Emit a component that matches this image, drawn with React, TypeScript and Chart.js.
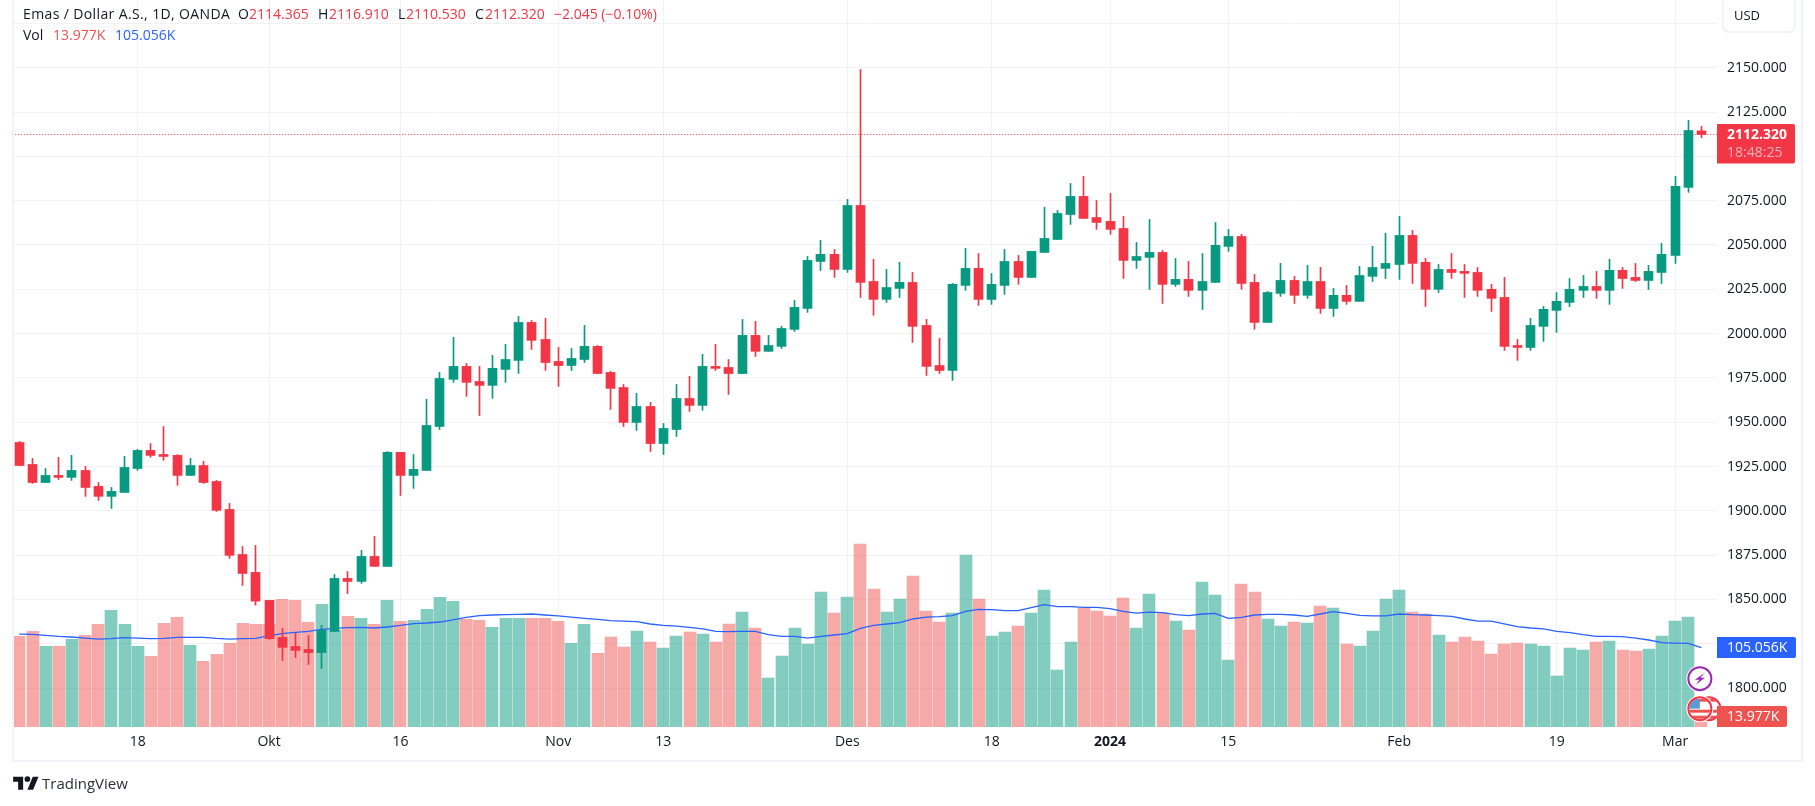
import { useEffect, useRef } from 'react';
import { Chart, registerables } from 'chart.js';

Chart.register(...registerables);

const FONT = '"Open Sans", sans-serif';
const TEXT = '#131722';
const UP = '#089981';
const DOWN = '#F23645';
const VOL_RED = '#EF5350';
const BLUE = '#2962FF';
const BORDER = '#F0F3FA';
const GRID = '#F2F2F4';

// daily candles, index 0 is 5 Sep 2023
const opens = [
  1938.6, 1926.2, 1916.0, 1920.0, 1918.9, 1922.8, 1913.8, 1908.2, 1910.4, 1923.9,
  1934.1, 1931.8, 1931.3, 1920.0, 1925.6, 1916.6, 1900.8, 1875.4, 1865.3, 1849.5,
  1828.6, 1823.5, 1821.8, 1820.1, 1832.0, 1861.9, 1860.2, 1874.3, 1868.7, 1933.0,
  1920.0, 1922.8, 1947.6, 1974.2, 1981.5, 1973.0, 1970.8, 1979.8, 1984.9, 2006.3,
  1996.7, 1984.3, 1982.0, 1985.4, 1992.8, 1978.1, 1969.6, 1949.9, 1958.9, 1938.0,
  1945.9, 1963.4, 1959.5, 1981.5, 1980.9, 1977.5, 1999.0, 1990.0, 1992.8, 2002.4,
  2014.2, 2040.7, 2044.7, 2036.2, 2072.3, 2029.4, 2019.3, 2025.5, 2028.9, 2004.6,
  1982.0, 1979.2, 2027.2, 2036.8, 2019.3, 2027.2, 2040.7, 2031.7, 2045.8, 2053.1,
  2067.2, 2077.4, 2065.5, 2063.3, 2059.3, 2041.3, 2043.0, 2045.8, 2027.8, 2030.6,
  2024.4, 2028.9, 2049.2, 2054.8, 2028.9, 2006.3, 2022.7, 2030.0, 2021.6, 2029.4,
  2014.2, 2021.6, 2018.2, 2032.3, 2036.8, 2039.0, 2055.4, 2040.2, 2025.0, 2036.2,
  2035.1, 2034.5, 2025.0, 2020.4, 1993.3, 1992.2, 2004.1, 2013.1, 2017.6, 2024.4,
  2026.6, 2024.4, 2035.7, 2031.7, 2030.0, 2034.5, 2044.1, 2082.5, 2114.365,
];
const highs = [
  1939.2, 1929.6, 1923.9, 1930.2, 1931.3, 1925.1, 1916.0, 1913.2, 1930.7, 1934.7,
  1938.0, 1947.6, 1931.8, 1929.6, 1927.9, 1917.2, 1904.2, 1879.9, 1880.5, 1849.5,
  1833.7, 1830.9, 1829.7, 1835.4, 1864.1, 1865.8, 1877.7, 1885.6, 1933.5, 1933.0,
  1931.8, 1962.9, 1978.1, 1997.9, 1983.2, 1981.5, 1987.7, 1993.9, 2009.7, 2007.4,
  2008.6, 1992.2, 1991.6, 2004.6, 1993.3, 1978.7, 1971.3, 1966.3, 1961.2, 1949.3,
  1971.3, 1975.9, 1988.3, 1993.9, 1985.4, 2008.0, 2006.9, 1999.0, 2004.1, 2018.7,
  2043.5, 2052.6, 2047.5, 2075.7, 2149.0, 2041.9, 2036.2, 2040.2, 2034.5, 2008.0,
  1997.3, 2028.3, 2048.1, 2045.2, 2033.9, 2047.5, 2044.1, 2046.4, 2071.2, 2069.5,
  2084.7, 2088.7, 2075.1, 2079.1, 2066.1, 2051.4, 2064.4, 2046.9, 2042.4, 2040.7,
  2045.2, 2062.7, 2058.8, 2056.0, 2033.4, 2023.8, 2039.6, 2032.3, 2038.5, 2037.4,
  2025.5, 2027.2, 2037.9, 2049.2, 2056.6, 2066.1, 2058.2, 2042.4, 2039.0, 2045.2,
  2039.0, 2037.3, 2027.8, 2031.7, 1996.7, 2008.6, 2015.3, 2023.2, 2031.1, 2032.8,
  2035.1, 2041.9, 2037.3, 2039.6, 2038.5, 2050.9, 2088.7, 2120.3, 2116.91,
];
const lows = [
  1925.6, 1915.5, 1916.0, 1917.7, 1917.2, 1908.2, 1905.9, 1901.4, 1910.4, 1922.8,
  1930.2, 1928.5, 1914.4, 1920.0, 1915.5, 1899.7, 1873.2, 1857.9, 1846.8, 1827.5,
  1815.6, 1817.3, 1813.4, 1811.1, 1832.0, 1853.4, 1859.1, 1868.7, 1868.7, 1908.7,
  1912.7, 1922.8, 1945.9, 1972.5, 1964.6, 1953.8, 1963.5, 1972.5, 1977.5, 1991.1,
  1979.2, 1970.2, 1979.2, 1983.7, 1977.5, 1957.2, 1947.6, 1945.4, 1933.5, 1931.8,
  1942.0, 1956.1, 1956.7, 1979.2, 1965.7, 1977.5, 1987.1, 1990.0, 1991.6, 2001.2,
  2012.0, 2035.6, 2031.7, 2034.5, 2020.4, 2010.3, 2017.6, 2020.4, 1995.0, 1976.4,
  1977.5, 1973.6, 2024.4, 2015.9, 2016.5, 2022.1, 2027.8, 2031.7, 2045.8, 2053.1,
  2061.6, 2065.0, 2058.8, 2056.0, 2031.1, 2036.8, 2024.9, 2017.0, 2026.6, 2021.0,
  2013.6, 2028.9, 2046.4, 2025.0, 2002.4, 2006.3, 2021.0, 2017.0, 2019.9, 2011.4,
  2009.7, 2016.5, 2018.2, 2029.4, 2031.1, 2030.6, 2028.3, 2015.3, 2023.2, 2031.1,
  2020.4, 2021.0, 2012.5, 1990.5, 1984.9, 1990.5, 1995.6, 2000.7, 2015.3, 2020.4,
  2019.9, 2016.5, 2025.5, 2029.4, 2024.9, 2028.3, 2039.6, 2079.7, 2110.53,
];
const closes = [
  1925.6, 1916.0, 1920.0, 1918.9, 1922.8, 1913.2, 1908.2, 1911.0, 1924.5, 1934.1,
  1931.3, 1930.7, 1920.0, 1925.6, 1916.0, 1900.3, 1874.9, 1864.7, 1849.1, 1827.9,
  1823.0, 1821.3, 1820.1, 1832.6, 1861.9, 1860.2, 1874.3, 1868.7, 1933.0, 1920.0,
  1923.4, 1948.2, 1974.7, 1981.5, 1972.5, 1970.8, 1980.4, 1985.4, 2006.3, 1996.2,
  1983.7, 1982.0, 1986.0, 1992.8, 1977.5, 1969.1, 1949.9, 1958.9, 1938.0, 1946.5,
  1963.4, 1959.5, 1981.5, 1980.4, 1977.5, 1999.0, 1990.0, 1993.3, 2002.9, 2014.8,
  2041.3, 2044.7, 2036.2, 2072.3, 2028.9, 2019.3, 2026.0, 2028.9, 2004.1, 1981.5,
  1979.2, 2027.8, 2036.8, 2019.3, 2027.8, 2040.7, 2031.7, 2046.4, 2053.7, 2067.8,
  2077.4, 2065.0, 2062.7, 2058.8, 2041.3, 2043.5, 2045.8, 2027.8, 2030.6, 2024.4,
  2029.4, 2049.8, 2054.8, 2028.3, 2006.3, 2023.2, 2030.0, 2021.6, 2029.4, 2014.2,
  2021.6, 2018.2, 2032.8, 2037.3, 2039.6, 2055.4, 2039.6, 2025.0, 2036.2, 2034.5,
  2034.0, 2024.4, 2019.9, 1992.8, 1992.2, 2004.6, 2013.7, 2018.2, 2025.0, 2026.6,
  2024.4, 2035.7, 2031.1, 2030.0, 2035.1, 2044.7, 2083.1, 2114.6, 2112.32,
];

// volume in thousands
const volumes = [
  120.0, 126.6, 106.7, 106.7, 116.0, 121.3, 135.8, 154.4, 135.8, 106.7,
  93.5, 137.2, 145.1, 108.0, 86.9, 96.1, 110.7, 137.2, 135.8, 135.8,
  168.9, 167.6, 138.5, 162.3, 127.9, 146.4, 143.8, 135.8, 167.6, 139.8,
  141.1, 155.7, 171.5, 166.3, 142.4, 141.1, 131.9, 143.8, 143.8, 143.8,
  143.8, 139.8, 110.7, 135.8, 97.5, 119.1, 105.8, 127.0, 112.5, 104.5,
  120.4, 125.7, 123.0, 112.5, 136.3, 152.1, 131.0, 64.8, 93.9, 131.0,
  109.8, 178.6, 150.8, 172.0, 242.1, 182.6, 152.1, 169.3, 199.8, 153.5,
  138.9, 150.8, 227.6, 169.3, 120.4, 125.7, 133.6, 150.8, 181.3, 75.4,
  112.5, 157.4, 153.5, 146.9, 170.7, 131.0, 176.0, 150.8, 140.2, 128.3,
  191.8, 174.6, 88.6, 189.2, 178.6, 142.9, 133.6, 138.9, 137.6, 160.1,
  157.4, 109.8, 107.2, 127.0, 169.3, 181.3, 152.1, 149.5, 121.7, 112.5,
  119.1, 113.8, 96.6, 109.8, 111.1, 109.8, 107.2, 67.5, 104.5, 101.9,
  112.5, 113.8, 101.9, 100.5, 103.2, 120.4, 140.2, 145.5, 13.977,
];
const volumeMa = [
  123.0, 122.6, 121.3, 120.0, 119.1, 117.7, 116.4, 116.9, 118.2, 117.7,
  116.9, 117.3, 118.6, 118.6, 118.6, 117.3, 116.4, 116.9, 117.3, 120.8,
  123.5, 125.2, 126.6, 129.2, 130.5, 131.4, 131.9, 131.0, 132.3, 134.5,
  136.7, 137.6, 138.9, 141.6, 145.1, 147.3, 148.2, 148.6, 149.1, 149.5,
  148.2, 146.9, 145.5, 143.8, 142.4, 140.7, 140.2, 139.4, 136.3, 134.5,
  133.6, 131.9, 129.7, 126.6, 126.1, 126.6, 126.6, 122.2, 120.0, 120.0,
  117.7, 120.0, 121.7, 123.5, 130.5, 134.5, 136.3, 138.0, 142.9, 145.5,
  146.0, 147.3, 153.0, 155.7, 155.2, 153.9, 153.9, 157.9, 161.8, 159.2,
  159.2, 158.3, 158.3, 156.6, 153.0, 150.8, 152.1, 151.3, 148.6, 147.3,
  149.5, 150.4, 143.8, 145.1, 148.2, 149.1, 149.1, 148.2, 146.4, 149.5,
  152.6, 150.4, 147.7, 146.9, 146.9, 149.5, 148.6, 148.2, 147.3, 146.4,
  142.9, 140.2, 140.2, 136.3, 132.7, 131.0, 129.7, 126.6, 124.8, 122.2,
  120.0, 120.0, 119.5, 117.7, 115.1, 111.6, 111.1, 110.7, 105.056,
];

const timeTickBars = [9, 19, 29, 41, 49, 63, 74, 83, 92, 105, 117, 126];
const timeTickLabels = ['18', 'Okt', '16', 'Nov', '13', 'Des', '18', '2024', '15', 'Feb', '19', 'Mar'];
const priceTicks = [1800, 1825, 1850, 1875, 1900, 1925, 1950, 1975, 2000, 2025, 2050, 2075, 2100, 2125, 2150, 2175];
const hiddenPriceLabels = [1825, 2100, 2175];

const lastPrice = 2112.32;
const countdown = '18:48:25';

const isUp = closes.map((c, i) => c >= opens[i]);

function roundBox(ctx: CanvasRenderingContext2D, x: number, y: number, w: number, h: number, color: string) {
  ctx.fillStyle = color;
  ctx.beginPath();
  ctx.roundRect(x, y, w, h, [0, 2, 2, 0]);
  ctx.fill();
}

function drawFlag(ctx: CanvasRenderingContext2D, cx: number, cy: number) {
  ctx.save();
  ctx.beginPath();
  ctx.arc(cx, cy, 13.5, 0, Math.PI * 2);
  ctx.fillStyle = '#fff';
  ctx.fill();
  ctx.beginPath();
  ctx.arc(cx, cy, 10.5, 0, Math.PI * 2);
  ctx.clip();
  ctx.fillStyle = '#fff';
  ctx.fillRect(cx - 12, cy - 12, 24, 24);
  ctx.fillStyle = '#EF5350';
  ctx.fillRect(cx - 12, cy - 10, 24, 3);
  ctx.fillRect(cx - 12, cy + 1, 24, 3);
  ctx.fillRect(cx - 12, cy + 7, 24, 3);
  ctx.fillStyle = '#5B9BD5';
  ctx.fillRect(cx - 12, cy - 10, 12, 10);
  ctx.restore();
  ctx.beginPath();
  ctx.arc(cx, cy, 11.5, 0, Math.PI * 2);
  ctx.strokeStyle = '#F23645';
  ctx.lineWidth = 2;
  ctx.stroke();
}

function drawBolt(ctx: CanvasRenderingContext2D, cx: number, cy: number) {
  ctx.beginPath();
  ctx.arc(cx, cy, 13.5, 0, Math.PI * 2);
  ctx.fillStyle = '#fff';
  ctx.fill();
  ctx.beginPath();
  ctx.arc(cx, cy, 11.5, 0, Math.PI * 2);
  ctx.strokeStyle = '#9C27B0';
  ctx.lineWidth = 2;
  ctx.stroke();
  ctx.fillStyle = '#9C27B0';
  ctx.beginPath();
  ctx.moveTo(cx + 5, cy - 6);
  ctx.lineTo(cx - 5, cy + 1);
  ctx.lineTo(cx - 0.5, cy + 1);
  ctx.lineTo(cx - 4, cy + 6);
  ctx.lineTo(cx + 5, cy - 1);
  ctx.lineTo(cx + 0.5, cy - 1);
  ctx.closePath();
  ctx.fill();
}

// keeps candles on whole pixels like the original does, then labels the right axis
const overlayPlugin = {
  id: 'overlay',
  beforeDatasetsDraw(chart: any) {
    chart.data.datasets.forEach((ds: any, i: number) => {
      if (!ds.barThickness) return;
      const odd = ds.barThickness % 2 === 1;
      chart.getDatasetMeta(i).data.forEach((el: any) => {
        el.x = odd ? Math.floor(el.x) + 0.5 : Math.round(el.x);
      });
    });
  },
  afterDraw(chart: any) {
    const { ctx, chartArea } = chart;
    const y = chart.scales.y.getPixelForValue(lastPrice);
    const yVol = chart.scales.yVol;
    const maY = yVol.getPixelForValue(volumeMa[volumeMa.length - 1]);
    const volY = yVol.getPixelForValue(volumes[volumes.length - 1]);
    const iconX = chart.scales.x.getPixelForValue(opens.length - 1) - 1.5;
    const left = chartArea.right;

    ctx.save();
    drawBolt(ctx, iconX, 678.7);
    drawFlag(ctx, iconX + 9, 708.7);
    drawFlag(ctx, iconX, 708.7);

    ctx.textBaseline = 'middle';
    ctx.textAlign = 'left';

    roundBox(ctx, left, y - 10.5, 78, 39.5, DOWN);
    ctx.fillStyle = '#fff';
    ctx.font = `bold 14px ${FONT}`;
    ctx.fillText(lastPrice.toFixed(3), left + 10, y + 0.5);
    ctx.fillStyle = 'rgba(255,255,255,0.6)';
    ctx.font = `14px ${FONT}`;
    ctx.fillText(countdown, left + 10, y + 18.5);

    roundBox(ctx, left, maY - 10.5, 79, 21, BLUE);
    ctx.fillStyle = '#fff';
    ctx.fillText(`${volumeMa[volumeMa.length - 1].toFixed(3)}K`, left + 10, maY + 0.5);

    roundBox(ctx, left, volY - 10.5, 70, 21, VOL_RED);
    ctx.fillStyle = '#fff';
    ctx.fillText(`${volumes[volumes.length - 1].toFixed(3)}K`, left + 10, volY + 0.5);
    ctx.restore();
  },
};

const legendRow1 = [
  { left: 23, text: 'Emas / Dollar A.S., 1D, OANDA', color: TEXT, spacing: 0.38 },
  { left: 238, text: 'O', color: TEXT },
  { left: 249, text: '2114.365', color: DOWN },
  { left: 318, text: 'H', color: TEXT },
  { left: 329, text: '2116.910', color: DOWN },
  { left: 398, text: 'L', color: TEXT },
  { left: 406, text: '2110.530', color: DOWN },
  { left: 475, text: 'C', color: TEXT },
  { left: 485, text: '2112.320', color: DOWN },
  { left: 554, text: '−2.045 (−0.10%)', color: DOWN },
];
const legendRow2 = [
  { left: 23, text: 'Vol', color: TEXT },
  { left: 53, text: '13.977K', color: VOL_RED },
  { left: 115, text: '105.056K', color: BLUE },
];

export default function App() {
  const canvasRef = useRef<HTMLCanvasElement>(null);

  useEffect(() => {
    if (!canvasRef.current) return;

    const chart = new Chart(canvasRef.current, {
      type: 'bar',
      data: {
        datasets: [
          {
            type: 'line',
            data: volumeMa.map((v, i) => ({ x: i, y: v })),
            yAxisID: 'yVol',
            borderColor: BLUE,
            borderWidth: 1.3,
            pointRadius: 0,
            order: 3,
          },
          {
            data: volumes.map((v, i) => ({ x: i, y: v })),
            yAxisID: 'yVol',
            backgroundColor: isUp.map((u) => (u ? 'rgba(8,153,129,0.5)' : 'rgba(239,83,80,0.5)')),
            barThickness: 12,
            order: 4,
          },
          {
            type: 'line',
            data: [{ x: -1, y: lastPrice }, { x: 130, y: lastPrice }],
            yAxisID: 'y',
            borderColor: DOWN,
            borderWidth: 1,
            borderDash: [1, 2],
            pointRadius: 0,
            order: 2,
          },
          {
            data: highs.map((h, i) => ({ x: i, y: [lows[i], h] })),
            yAxisID: 'y',
            backgroundColor: isUp.map((u) => (u ? UP : DOWN)),
            barThickness: 1,
            order: 1,
          },
          {
            data: opens.map((o, i) => ({ x: i, y: [o, closes[i]] })),
            yAxisID: 'y',
            backgroundColor: isUp.map((u) => (u ? UP : DOWN)),
            barThickness: 9,
            order: 0,
          },
        ] as any,
      },
      options: {
        animation: false,
        responsive: false,
        devicePixelRatio: 1,
        layout: { padding: { left: 14, right: 13, top: 0, bottom: 44 } },
        plugins: { legend: { display: false }, tooltip: { enabled: false } },
        datasets: { bar: { grouped: false } },
        scales: {
          x: {
            type: 'linear',
            offset: false,
            min: -0.411,
            max: 129.19,
            grid: { color: GRID, drawTicks: false, offset: false },
            border: { display: false },
            afterBuildTicks: (scale: any) => {
              scale.ticks = timeTickBars.map((value) => ({ value }));
            },
            afterFit: (scale: any) => {
              scale.height = 35;
              scale.paddingLeft = 0;
              scale.paddingRight = 0;
            },
            ticks: {
              autoSkip: false,
              maxRotation: 0,
              padding: 7,
              color: TEXT,
              font: (c: any) => ({
                family: FONT,
                size: 14,
                weight: timeTickLabels[timeTickBars.indexOf(c.tick?.value)] === '2024' ? 'bold' : 'normal',
              }),
              callback: (value: any) => timeTickLabels[timeTickBars.indexOf(value)],
            },
          },
          y: {
            position: 'right',
            min: 1778.08,
            max: 2188.2,
            grid: { color: GRID, drawTicks: false },
            border: { display: false },
            afterBuildTicks: (scale: any) => {
              scale.ticks = priceTicks.map((value) => ({ value }));
            },
            afterFit: (scale: any) => {
              scale.width = 85;
              scale.paddingTop = 0;
              scale.paddingBottom = 0;
            },
            ticks: {
              padding: 10,
              color: TEXT,
              font: { family: FONT, size: 14 },
              callback: (value: any) => (hiddenPriceLabels.includes(value) ? '' : value.toFixed(3)),
            },
          },
          yVol: {
            display: false,
            min: 0,
            max: 961.9,
          },
        },
      } as any,
      plugins: [overlayPlugin],
    });

    return () => chart.destroy();
  }, []);

  const legendStyle = { position: 'absolute', whiteSpace: 'nowrap', fontFamily: FONT, fontSize: 14, lineHeight: '18px' } as const;

  return (
    <div style={{ position: 'absolute', left: 0, top: 0, width: 1815, height: 806, background: '#fff', overflow: 'hidden' }}>
      <canvas ref={canvasRef} width={1815} height={806} style={{ position: 'absolute', left: 0, top: 0 }} />
      <div
        style={{
          position: 'absolute',
          left: 12,
          top: -2,
          width: 1787,
          height: 762,
          borderLeft: `2px solid ${BORDER}`,
          borderRight: `2px solid ${BORDER}`,
          borderBottom: `2px solid ${BORDER}`,
        }}
      />
      {legendRow1.map((t) => (
        <span key={t.left} style={{ ...legendStyle, left: t.left, top: 5, color: t.color, letterSpacing: t.spacing }}>
          {t.text}
        </span>
      ))}
      {legendRow2.map((t) => (
        <span key={t.left} style={{ ...legendStyle, left: t.left, top: 26, color: t.color }}>
          {t.text}
        </span>
      ))}
      <div
        style={{
          position: 'absolute',
          left: 1722,
          top: -6,
          width: 70,
          height: 35,
          border: `2px solid ${BORDER}`,
          borderRadius: 7,
          boxSizing: 'content-box',
          background: '#fff',
        }}
      >
        <span style={{ ...legendStyle, left: 10, top: 10, color: TEXT, fontSize: 13 }}>USD</span>
      </div>
      <svg style={{ position: 'absolute', left: 13, top: 774 }} width="26" height="20" viewBox="0 0 36 28">
        <path d="M14 22H7V11H0V4h14v18zM28 22h-8l7.5-18h8L28 22z" fill={TEXT} />
        <circle cx="20" cy="7" r="4" fill={TEXT} />
      </svg>
      <span style={{ ...legendStyle, left: 42, top: 774, color: '#2A2E39', fontSize: 15 }}>TradingView</span>
    </div>
  );
}
